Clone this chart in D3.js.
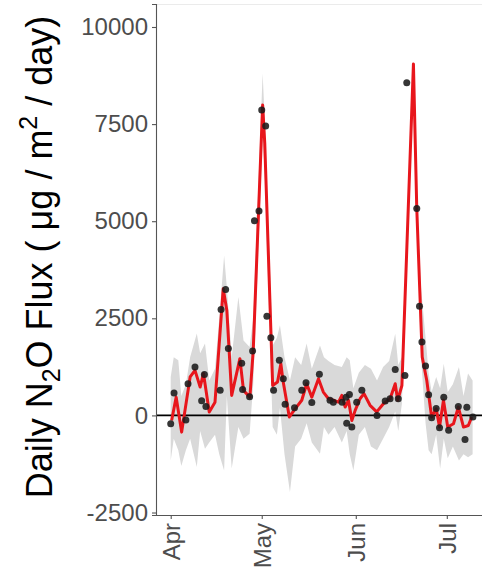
<!DOCTYPE html>
<html>
<head>
<meta charset="utf-8">
<script src="https://cdn.jsdelivr.net/npm/d3@7"></script>
<style>
  html, body { margin: 0; padding: 0; background: #ffffff; }
  svg { display: block; }
</style>
</head>
<body>
<svg id="chart" width="482" height="585"></svg>
<script>
// ---- data (days are offsets from 1 April) ----
const lineDays = [0.3,1.8,3.6,6.4,8,9.7,10.8,12.7,14.6,17.3,18.5,20.1,22.8,24,26.1,27.2,30.3,31,33.6,35.2,36.3,37,39.1,41,43.2,44.8,46.5,48.7,50.3,52,53.6,55.3,56.4,57.5,58.6,59.7,60.8,62.4,63.7,65.7,67.9,70.1,72.3,74,74.8,76.2,80,81.1,82.9,84.4,86,87.5,88.6,89.9,91.3,93.2,94.8,96.5,98.1,99.2];
const lineValues = [-130,470,-430,990,1160,730,1080,90,340,3260,2700,515,1460,640,470,1675,7990,7000,770,860,1330,900,-40,170,390,815,470,945,600,430,390,340,515,215,390,-130,130,430,560,260,90,300,430,815,390,770,9045,5325,1500,900,-40,170,-300,390,-300,-215,215,-300,-260,-40];

const pointDays = [0,1.1,5,5.7,8,10.2,11.1,11.6,16.3,16.6,18.1,19,23.4,23.7,26,27,27.6,29.1,30,31.3,31.7,33,33.9,35.8,37.1,37.7,40.8,43.2,44.6,46.5,49,52.5,53.6,56.5,57.8,58,58.9,59.7,61.3,63,68,70.7,72.3,74,75,77.2,77.8,81.1,82,82.8,84,85,86,87.5,88.6,90,91.6,94.8,97,97.6,99.6];
const pointValues = [-215,575,-120,815,1245,380,1055,230,645,2725,3240,1720,1340,670,480,1660,5010,5260,7860,7450,2550,2000,645,1420,945,290,200,645,840,330,1060,390,340,340,470,-200,540,-300,340,645,0,370,430,1180,430,1030,8565,5325,2810,1890,1270,530,-60,180,-320,470,-380,230,-620,210,-40];

const ribbonDays = [0,1,2.5,3.5,5,6.4,8.6,9.7,11.3,12.7,14.6,16,17.6,18.5,20.1,22.3,24,26,27.2,30.3,31,33.6,35,36,37.5,39.3,41,43,44.8,46.5,49.2,50.5,52,54,56.4,58,59,60.2,62,64,66,68,70,72,74,75,76.2,80,81.1,82.5,84,85,86,87.5,88.8,90,91.3,93,95,96.5,98,99.5];
const ribbonUpper = [990,1500,1420,500,800,1500,2110,1600,1850,900,1200,2500,4120,3300,1500,3050,1930,1760,2500,8800,7600,1800,2000,2320,1500,900,1500,1300,1850,1200,1800,1500,1400,1300,1245,1500,1420,700,1100,1300,1200,900,1245,1400,2100,1300,1500,9100,5600,3300,2000,1100,600,990,700,1330,600,800,1245,500,1080,900];
const ribbonLower = [-1160,-600,-900,-1300,-900,-600,-1330,-400,-860,-700,-500,-1000,-1420,500,-1370,-300,-600,-470,800,7200,6200,-300,-500,200,-1000,-1975,-800,-600,-200,-700,-990,-300,-500,-300,-700,-400,-1000,-1420,-500,-300,-800,-900,-600,-300,100,-400,300,9000,5100,1500,-200,-900,-1000,-500,-1375,-600,-1100,-800,-1160,-1000,-1075,-1000];

const yTicks = [-2500, 0, 2500, 5000, 7500, 10000];
const xTickDays = [0, 30, 61, 91];
const xTickLabels = ["Apr", "May", "Jun", "Jul"];

// ---- setup ----
const svg = d3.select("#chart");
const DAY = 86400000;
const base = Date.UTC(2019, 3, 1);
const toDate = d => new Date(base + d * DAY);

const x = d3.scaleUtc()
  .domain([toDate(-4.85), toDate(102.6)])
  .range([156, 482]);
const y = d3.scaleLinear()
  .domain([-2564, 10592])
  .range([515, 4]);

const font = "'Liberation Sans', Arial, sans-serif";

// faint top border
svg.append("line")
  .attr("x1", 156).attr("x2", 482).attr("y1", 4.5).attr("y2", 4.5)
  .attr("stroke", "#ebebeb").attr("stroke-width", 1);

// ribbon
const ribbon = ribbonDays.map((d, i) => ({ d, lo: ribbonLower[i], hi: ribbonUpper[i] }));
svg.append("path")
  .datum(ribbon)
  .attr("fill", "#d9d9d9")
  .attr("d", d3.area()
    .x(r => x(toDate(r.d)))
    .y0(r => y(r.lo))
    .y1(r => y(r.hi)));

// zero line
svg.append("line")
  .attr("x1", 156).attr("x2", 482)
  .attr("y1", y(0)).attr("y2", y(0))
  .attr("stroke", "#000").attr("stroke-width", 1.7);

// red line
const lineData = lineDays.map((d, i) => ({ d, v: lineValues[i] }));
svg.append("path")
  .datum(lineData)
  .attr("fill", "none")
  .attr("stroke", "#e8161c")
  .attr("stroke-width", 3)
  .attr("stroke-linejoin", "round")
  .attr("d", d3.line().x(p => x(toDate(p.d))).y(p => y(p.v)));

// points
const pts = pointDays.map((d, i) => ({ d, v: pointValues[i] }));
svg.append("g").selectAll("circle")
  .data(pts).join("circle")
  .attr("cx", p => x(toDate(p.d)))
  .attr("cy", p => y(p.v))
  .attr("r", 3.5)
  .attr("fill", "#1a1a1a")
  .attr("fill-opacity", 0.88);

// y axis
const yAxis = svg.append("g")
  .attr("transform", "translate(156,0)")
  .call(d3.axisLeft(y).tickValues(yTicks).tickSize(4).tickPadding(4).tickFormat(d => String(d)));
yAxis.select(".domain").attr("stroke", "#555").attr("stroke-width", 1.1);
yAxis.selectAll(".tick line").attr("stroke", "#555").attr("stroke-width", 1.1);
yAxis.selectAll(".tick text")
  .attr("font-family", font).attr("font-size", 24).attr("fill", "#4d4d4d");

// x axis
const xAxis = svg.append("g")
  .attr("transform", "translate(0,515)")
  .call(d3.axisBottom(x).tickValues(xTickDays.map(toDate)).tickSize(4)
    .tickFormat((d, i) => xTickLabels[i]));
xAxis.select(".domain").attr("stroke", "#555").attr("stroke-width", 1.1)
  .attr("d", "M156,0.5H482");
xAxis.selectAll(".tick line").attr("stroke", "#555").attr("stroke-width", 1.1);
xAxis.selectAll(".tick text")
  .attr("font-family", font).attr("font-size", 24).attr("fill", "#4d4d4d")
  .attr("text-anchor", "end")
  .attr("transform", "rotate(-90)")
  .attr("x", -8).attr("y", 0).attr("dy", "0.36em");

// y title
const title = svg.append("text")
  .attr("transform", "translate(52,257) rotate(-90)")
  .attr("text-anchor", "middle")
  .attr("font-family", font)
  .attr("font-size", 36)
  .attr("fill", "#000");
title.append("tspan").text("Daily N");
title.append("tspan").attr("font-size", 25).attr("dy", 8).text("2");
title.append("tspan").attr("dy", -8).text("O Flux ( \u03BCg / m");
title.append("tspan").attr("font-size", 25).attr("dy", -15).text("2");
title.append("tspan").attr("dy", 15).text(" / day)");
</script>
</body>
</html>
